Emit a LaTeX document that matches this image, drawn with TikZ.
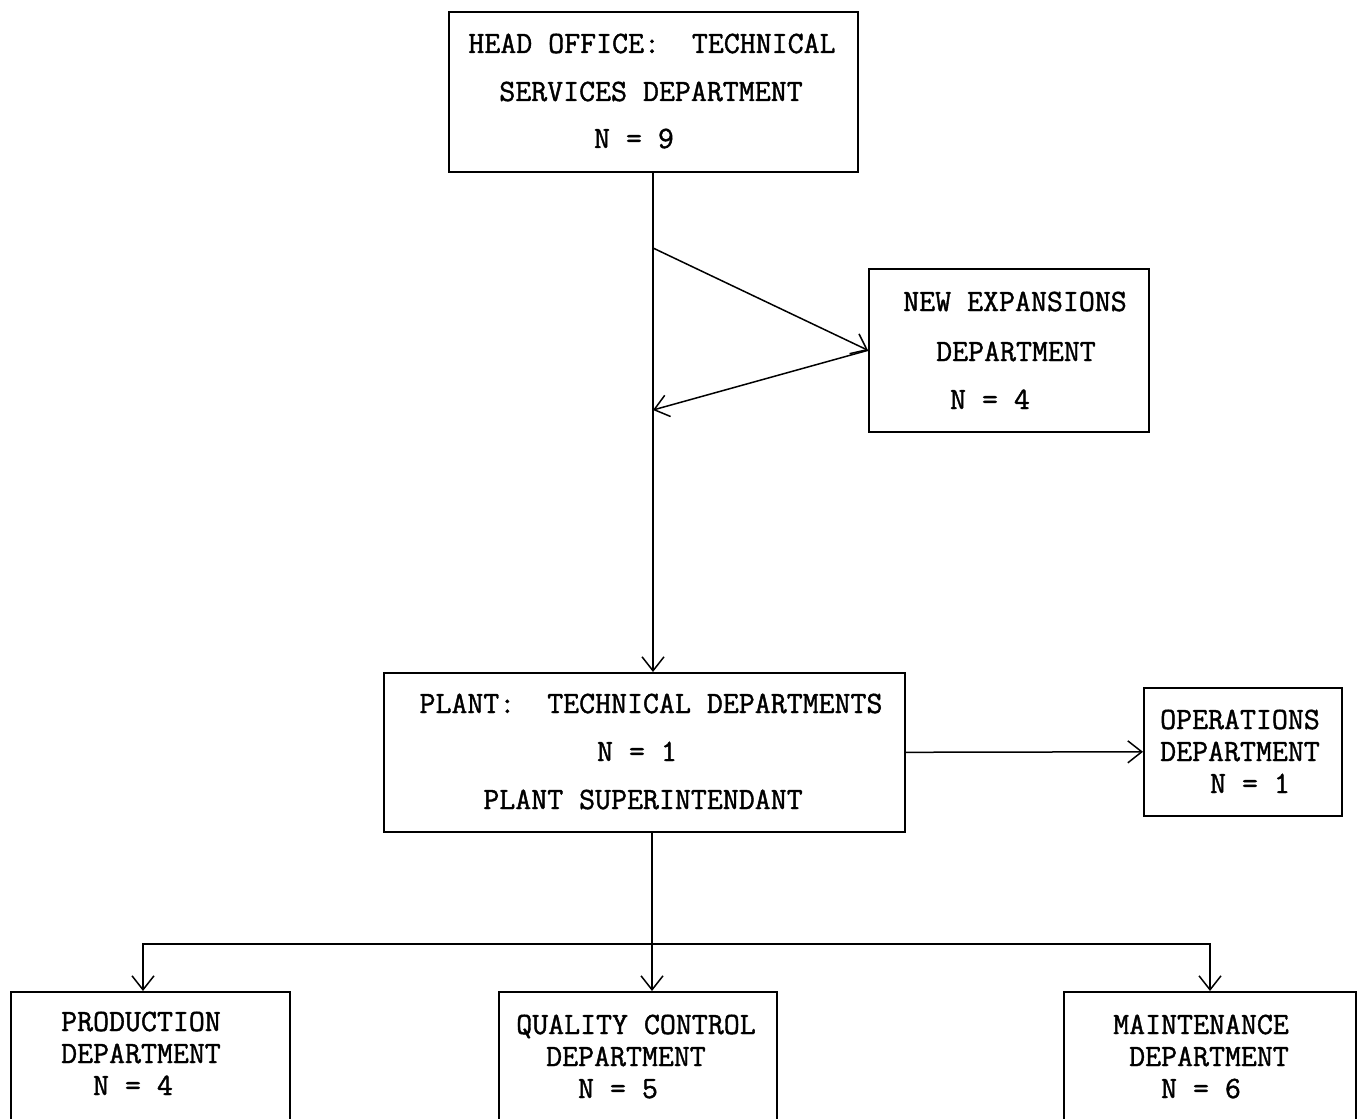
\documentclass[tikz,border=0pt]{standalone}
\usepackage{fontspec}
\newfontfamily\twfont{Latin Modern Mono}[FakeBold=1.3]
\usetikzlibrary{arrows.meta,calc}
\begin{document}
\begin{tikzpicture}[x=1pt,y=-1pt,
 box/.style={draw, line width=1.6pt, inner sep=0pt, anchor=north west},
 lbl/.style={font=\fontsize{31}{31}\selectfont\twfont, inner sep=0pt, anchor=base},
 ln/.style={line width=1.5pt},
 arr/.style={line width=1.5pt, -{Straight Barb[length=14pt,width=22pt,line width=1.5pt]}}]
\useasboundingbox[fill=white] (0,0) rectangle (1364,1118);
% boxes
\node[box, minimum width=409pt, minimum height=160pt] (ho) at (448,11) {};
\node[box, minimum width=280pt, minimum height=163pt] (ne) at (868,268) {};
\node[box, minimum width=521pt, minimum height=159pt] (pl) at (383,672) {};
\node[box, minimum width=198pt, minimum height=128pt] (op) at (1143,687) {};
\node[box, minimum width=279pt, minimum height=160pt] (pr) at (10,991) {};
\node[box, minimum width=278pt, minimum height=160pt] (qc) at (498,991) {};
\node[box, minimum width=292pt, minimum height=160pt] (mt) at (1063,991) {};
% texts
\node[lbl] (ho1) at (652,53) {HEAD OFFICE:\ \ TECHNICAL};
\node[lbl] (ho2) at (651,101) {SERVICES DEPARTMENT};
\node[lbl] (ho3) at (634,148) {N = 9};
\node[lbl] (ne1) at (1015,311) {NEW EXPANSIONS};
\node[lbl] (ne2) at (1016,361) {DEPARTMENT};
\node[lbl] (ne3) at (990,409) {N = 4};
\node[lbl] (pl1) at (651,713) {PLANT:\ \ TECHNICAL DEPARTMENTS};
\node[lbl] (pl2) at (637,761) {N = 1};
\node[lbl] (pl3) at (643,809) {PLANT SUPERINTENDANT};
\node[lbl] (op1) at (1240,729) {OPERATIONS};
\node[lbl] (op2) at (1240,761) {DEPARTMENT};
\node[lbl] (op3) at (1250,793) {N = 1};
\node[lbl] (pr1) at (141,1031) {PRODUCTION};
\node[lbl] (pr2) at (141,1063) {DEPARTMENT};
\node[lbl] (pr3) at (133,1095) {N = 4};
\node[lbl] (qc1) at (636,1034) {QUALITY CONTROL};
\node[lbl] (qc2) at (626,1066) {DEPARTMENT};
\node[lbl] (qc3) at (618,1098) {N = 5};
\node[lbl] (mt1) at (1201,1034) {MAINTENANCE};
\node[lbl] (mt2) at (1209,1066) {DEPARTMENT};
\node[lbl] (mt3) at (1201,1098) {N = 6};
% connectors
\coordinate (d1) at (653,248);
\coordinate (d2) at (653,410);
\draw[arr] (ho.south -| d1) -- (d1 |- pl.north);
\draw[arr] (d1) -- (ne.west);
\draw[arr] (ne.west) -- (d2);
\draw[arr] (pl.east) -- (op.west);
\coordinate (j) at (652,944);
\coordinate (pa) at (143,991);
\coordinate (ma) at (1210,991);
\draw[ln] (pl.south -| j) -- (j);
\draw[arr] (j) -| (pa);
\draw[arr] (j) -- (qc.north -| j);
\draw[arr] (j) -| (ma);
\end{tikzpicture}
\end{document}
